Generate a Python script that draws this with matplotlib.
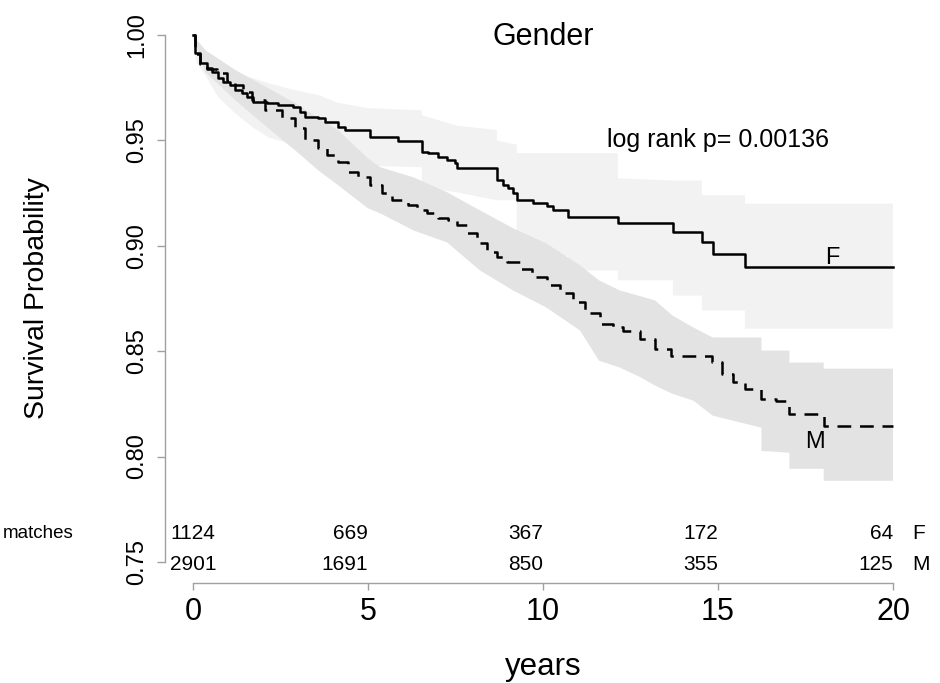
import matplotlib
matplotlib.use("Agg")
import matplotlib.pyplot as plt

plt.rcParams['font.family'] = ['Liberation Sans', 'DejaVu Sans']

# Kaplan-Meier estimates (years, survival)
f_t = [0, 0.066, 0.21, 0.40, 0.54, 0.72, 0.86, 1.06, 1.21, 1.40, 1.54, 1.72, 2.11, 2.44, 2.86,
       3.06, 3.21, 3.58, 3.78, 4.15, 4.35, 5.06, 5.86, 6.54, 6.72, 7.00, 7.25, 7.49, 7.53, 8.68,
       8.86, 9.00, 9.14, 9.25, 9.71, 10.11, 10.29, 10.71, 12.14, 13.71, 14.54, 14.86, 15.77, 20]
f_surv = [1.0, 0.9914, 0.9867, 0.9843, 0.9824, 0.9796, 0.9777, 0.9762, 0.9739, 0.9724, 0.9705,
          0.9682, 0.9677, 0.9667, 0.9658, 0.9634, 0.9610, 0.9606, 0.9587, 0.9563, 0.9548, 0.9515,
          0.9498, 0.9445, 0.9439, 0.9420, 0.9406, 0.9392, 0.9368, 0.9311, 0.9287, 0.9273, 0.9249,
          0.9216, 0.9202, 0.9187, 0.9168, 0.9136, 0.9106, 0.9065, 0.9018, 0.8962, 0.8899, 0.8899]

m_t = [0, 0.066, 0.21, 0.40, 0.69, 0.97, 1.21, 1.44, 1.68, 2.06, 2.54, 2.92, 3.21, 3.58, 3.83,
       4.15, 4.43, 4.72, 5.06, 5.40, 5.69, 6.15, 6.39, 6.68, 7.00, 7.29, 7.54, 7.82, 8.11, 8.39,
       8.68, 8.96, 9.34, 9.68, 10.11, 10.49, 10.86, 11.20, 11.63, 12.00, 12.29, 12.77, 13.20,
       13.67, 14.82, 15.10, 15.42, 15.77, 16.24, 16.67, 17.04, 18.02, 20]
m_surv = [1.0, 0.9910, 0.9865, 0.9838, 0.9818, 0.9780, 0.9762, 0.9731, 0.9691, 0.9644, 0.9606,
          0.9558, 0.9501, 0.9463, 0.9430, 0.9398, 0.9350, 0.9327, 0.9287, 0.9249, 0.9216, 0.9192,
          0.9168, 0.9154, 0.9130, 0.9121, 0.9097, 0.9059, 0.9011, 0.8970, 0.8946, 0.8922, 0.8892,
          0.8851, 0.8812, 0.8774, 0.8732, 0.8679, 0.8631, 0.8614, 0.8598, 0.8560, 0.8512, 0.8479,
          0.8447, 0.8393, 0.8355, 0.8322, 0.8275, 0.8265, 0.8203, 0.8146, 0.8146]

# confidence band edges (repeated times = vertical steps)
f_up_t = [0, 0.1, 0.35, 0.72, 1.2, 1.7, 2.15, 2.9, 3.6, 4.1, 5.0, 6.54, 6.54, 7.53, 8.68, 8.68,
          9.25, 9.25, 12.14, 12.14, 13.71, 14.54, 14.54, 15.77, 15.77, 20]
f_up = [1.0, 0.996, 0.9914, 0.9867, 0.982, 0.9796, 0.9772, 0.9739, 0.9715, 0.968, 0.9653, 0.9643,
        0.962, 0.957, 0.955, 0.950, 0.948, 0.944, 0.944, 0.932, 0.931, 0.931, 0.924, 0.924,
        0.920, 0.920]
f_lo_t = [0, 0.1, 0.35, 0.72, 1.2, 1.7, 2.15, 2.9, 3.6, 4.1, 5.0, 6.54, 6.54, 7.53, 8.68, 9.25,
          9.25, 10.71, 10.71, 12.14, 12.14, 13.71, 13.71, 14.54, 14.54, 15.77, 15.77, 20]
f_lo = [1.0, 0.987, 0.981, 0.9705, 0.963, 0.9563, 0.9515, 0.9477, 0.945, 0.941, 0.938, 0.9373,
        0.928, 0.9254, 0.9216, 0.9216, 0.900, 0.895, 0.8883, 0.8883, 0.8836, 0.8836, 0.8764,
        0.8764, 0.8693, 0.8693, 0.8607, 0.8607]

m_up_t = [0, 0.35, 1.21, 2.15, 2.92, 3.58, 4.15, 5.0, 5.35, 6.3, 7.26, 8.2, 9.15, 10.1, 11.06,
          11.6, 12.2, 12.8, 13.2, 13.7, 14.3, 14.85, 16.24, 16.24, 17.04, 17.04, 18.02, 18.02, 20]
m_up = [1.0, 0.9929, 0.9834, 0.9748, 0.9677, 0.9606, 0.9548, 0.9415, 0.9373, 0.9325, 0.9254,
        0.9168, 0.9083, 0.9011, 0.8907, 0.8836, 0.8788, 0.8760, 0.8741, 0.8669, 0.8612, 0.8565,
        0.8565, 0.8503, 0.8503, 0.8446, 0.8446, 0.8417, 0.8417]
m_lo_t = [0, 0.35, 1.21, 2.15, 2.92, 3.58, 4.15, 5.0, 5.35, 6.3, 7.26, 8.2, 9.15, 10.1, 11.06,
          11.6, 12.2, 12.8, 13.2, 13.7, 14.3, 14.85, 16.24, 16.24, 17.04, 17.04, 18.02, 18.02, 20]
m_lo = [1.0, 0.9824, 0.9691, 0.9558, 0.9453, 0.9358, 0.9287, 0.9178, 0.9154, 0.9073, 0.9016,
        0.8883, 0.8788, 0.8707, 0.8598, 0.8455, 0.8422, 0.8375, 0.8337, 0.8298, 0.8265, 0.8194,
        0.8137, 0.8027, 0.8018, 0.7942, 0.7942, 0.7885, 0.7885]

# numbers at risk
risk_times = [0, 5, 10, 15, 20]
risk_f = [1124, 669, 367, 172, 64]
risk_m = [2901, 1691, 850, 355, 125]

x_ticks = [0, 5, 10, 15, 20]
y_ticks = [0.75, 0.80, 0.85, 0.90, 0.95, 1.00]

fig = plt.figure(figsize=(9.4, 6.83), dpi=100)
ax = fig.add_axes([165 / 940, 100 / 683, 756 / 940, 569 / 683])

ax.fill(f_up_t + f_lo_t[::-1], f_up + f_lo[::-1], color='#f2f2f2', lw=0)
ax.fill(m_up_t + m_lo_t[::-1], m_up + m_lo[::-1], color='#e3e3e3', lw=0)

ax.plot(f_t, f_surv, drawstyle='steps-post', color='black', lw=1.8)
ax.plot(m_t, m_surv, drawstyle='steps-post', color='black', lw=1.8, linestyle=(0, (5.5, 3.5)))

ax.set_xlim(-0.8, 20.8)
ax.set_ylim(0.74, 1.01)

for side in ['top', 'right']:
    ax.spines[side].set_visible(False)
ax.spines['left'].set_bounds(0.75, 1.00)
ax.spines['bottom'].set_bounds(0, 20)
for side in ['left', 'bottom']:
    ax.spines[side].set_color('#a0a0a0')
    ax.spines[side].set_linewidth(1)

ax.set_xticks(x_ticks)
ax.set_xticklabels([str(v) for v in x_ticks], fontsize=22)
ax.set_yticks(y_ticks)
ax.set_yticklabels(['%.2f' % v for v in y_ticks], fontsize=17, rotation=90, va='center')
ax.tick_params(axis='x', length=5, width=1, color='#a0a0a0', pad=5)
ax.tick_params(axis='y', length=5.5, width=1, color='#a0a0a0', pad=6.5)

ax.set_xlabel('years', fontsize=22.5, va='baseline')
ax.xaxis.set_label_coords(0.5, -0.1617)
ax.set_ylabel('Survival Probability', fontsize=20.5, va='center')
ax.yaxis.set_label_coords(-0.1687, 0.5)

ax.text(10, 0.9952, 'Gender', fontsize=22, ha='center', va='baseline')
ax.text(15, 0.9468, 'log rank p= 0.00136', fontsize=18, ha='center', va='baseline')
ax.text(18.28, 0.8916, 'F', fontsize=17, ha='center', va='baseline')
ax.text(17.77, 0.8042, 'M', fontsize=17, ha='center', va='baseline')

y_row_f = 0.7633
y_row_m = 0.749
for i, t in enumerate(risk_times):
    ha = 'center' if i == 0 else 'right'
    ax.text(t, y_row_f, str(risk_f[i]), fontsize=15, ha=ha, va='center')
    ax.text(t, y_row_m, str(risk_m[i]), fontsize=15, ha=ha, va='center')
ax.text(20.56, y_row_f, 'F', fontsize=15, ha='left', va='center')
ax.text(20.56, y_row_m, 'M', fontsize=15, ha='left', va='center')
ax.text(-3.42, y_row_f, 'matches', fontsize=13.5, ha='right', va='center')

fig.savefig('out.png', dpi=100)
